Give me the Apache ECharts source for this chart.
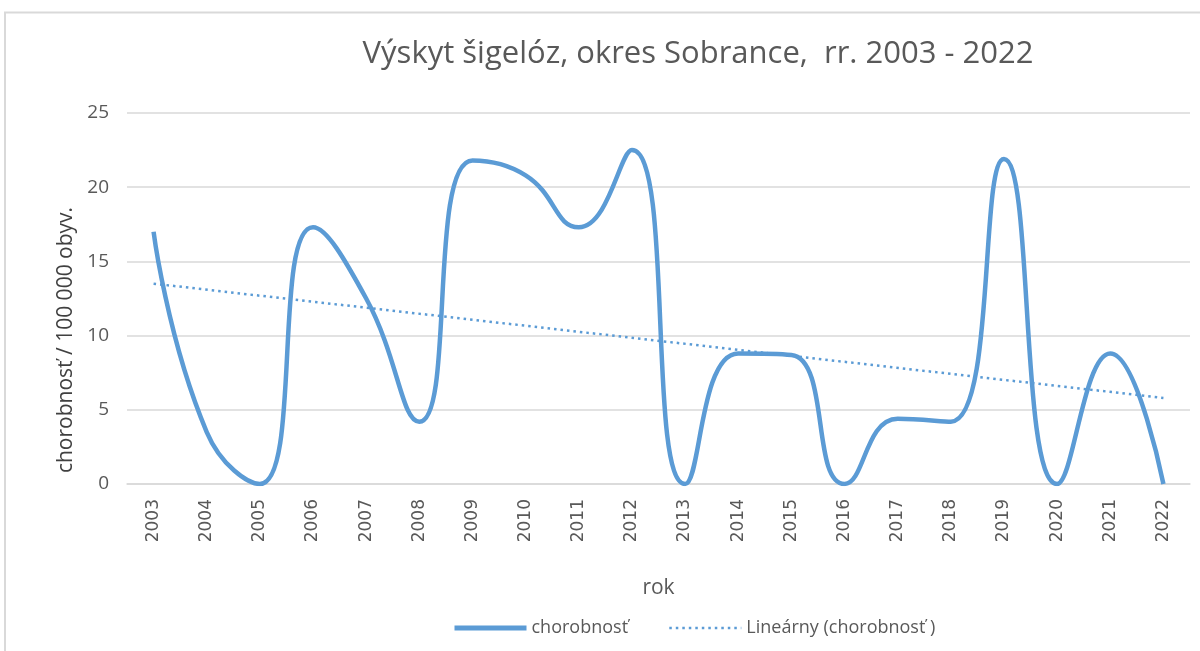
<!DOCTYPE html>
<html>
<head>
<meta charset="utf-8">
<script src="https://cdn.jsdelivr.net/npm/echarts@6/dist/echarts.min.js"></script>
<style>
  html, body { margin: 0; padding: 0; background: #fff; }
  #chart { width: 1200px; height: 651px; }
</style>
</head>
<body>
<div id="chart"></div>
<script>
// roky
const years = ["2003", "2004", "2005", "2006", "2007", "2008", "2009", "2010", "2011", "2012",
  "2013", "2014", "2015", "2016", "2017", "2018", "2019", "2020", "2021", "2022"];
// chorobnosť na 100 000 obyv.
const incidence = [17.0, 3.5, 0, 17.3, 12.5, 4.2, 21.8, 20.8, 17.3, 22.5,
  0, 8.8, 8.7, 0, 4.4, 4.2, 21.9, 0, 8.8, 0];
// lineárny trend - koncové body odčítané z grafu
const trendYears = ["2003", "2022"];
const trendValues = [13.5, 5.8];
const yTicks = [0, 5, 10, 15, 20, 25];

const blue = "#5b9bd5";
const textColor = "#595959";

const chart = echarts.init(document.getElementById("chart"));
chart.setOption({
  animation: false,
  title: {
    text: "Výskyt šigelóz, okres Sobrance,  rr. 2003 - 2022",
    left: 693,
    textAlign: "center",
    top: 34,
    textStyle: {
      fontFamily: "Open Sans",
      fontWeight: "normal",
      fontSize: 31,
      color: textColor,
    },
  },
  graphic: [
    {
      type: "polyline",
      shape: { points: [[5, 651], [5, 12.5], [1200, 12.5]] },
      style: { stroke: "#d9d9d9", lineWidth: 2, fill: null },
    },
    {
      type: "text",
      x: 66,
      y: 340,
      rotation: Math.PI / 2,
      style: {
        text: "chorobnosť / 100 000 obyv.",
        fill: "#404040",
        font: "21px 'Open Sans'",
        align: "center",
        verticalAlign: "middle",
      },
    },
  ],
  legend: {
    bottom: 9,
    left: 447,
    itemGap: 40,
    itemWidth: 72,
    itemHeight: 14,
    itemStyle: { opacity: 0 },
    textStyle: { color: textColor, fontSize: 18, fontFamily: "Open Sans" },
    data: [
      { name: "chorobnosť", lineStyle: { width: 5 } },
      { name: "Lineárny (chorobnosť )", lineStyle: { width: 2.5 } },
    ],
  },
  grid: {
    left: 127,
    right: 10,
    top: 113,
    bottom: 167,
  },
  xAxis: {
    type: "category",
    data: years,
    boundaryGap: true,
    name: "rok",
    nameLocation: "middle",
    nameGap: 94,
    nameTextStyle: { color: textColor, fontSize: 21, fontFamily: "Open Sans" },
    axisLine: { show: true, lineStyle: { color: "#d9d9d9", width: 1.5 } },
    axisTick: { show: false },
    axisLabel: {
      rotate: 90,
      color: textColor,
      fontSize: 17,
      fontFamily: "DejaVu Sans",
      margin: 15,
    },
  },
  yAxis: {
    type: "value",
    min: 0,
    max: 25,
    interval: 5,
    axisLine: { show: false },
    axisTick: { show: false },
    axisLabel: {
      color: textColor,
      fontSize: 19,
      fontFamily: "Open Sans",
      margin: 18,
      formatter: (v) => (yTicks.includes(v) ? String(v) : ""),
    },
    splitLine: { lineStyle: { color: "#d9d9d9", width: 1.5 } },
  },
  series: [
    {
      name: "chorobnosť",
      type: "line",
      data: incidence,
      smooth: 0.5,
      symbol: "none",
      lineStyle: { color: blue, width: 4.5 },
      itemStyle: { color: blue },
    },
    {
      name: "Lineárny (chorobnosť )",
      type: "line",
      data: trendYears.map((y, i) => [y, trendValues[i]]),
      symbol: "none",
      lineStyle: { color: blue, width: 2.5, type: [2.5, 4] },
      itemStyle: { color: blue },
    },
  ],
});
</script>
</body>
</html>
